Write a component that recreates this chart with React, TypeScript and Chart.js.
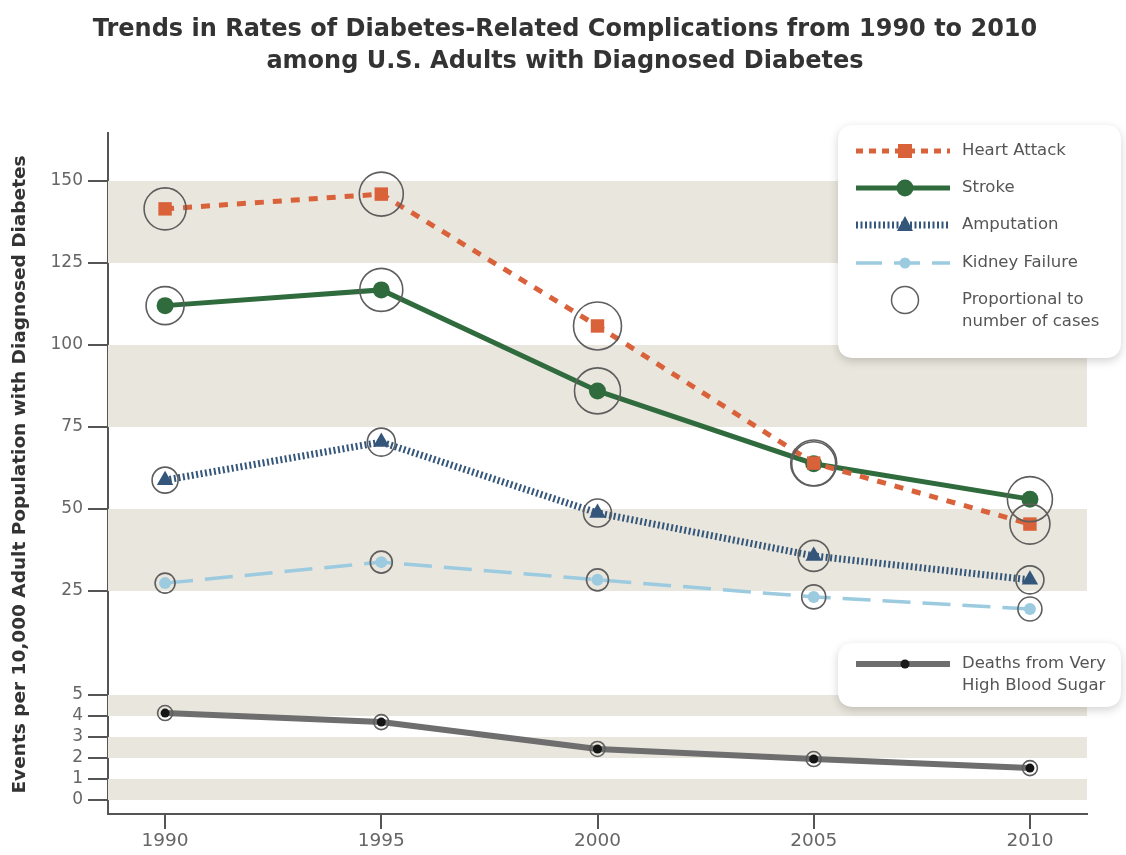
import React, { useEffect, useRef } from "react";
import { Chart, registerables } from "chart.js";

Chart.register(...registerables);

// ---- data ----
const years = [1990, 1995, 2000, 2005, 2010];
const heartAttack = [141.5, 146, 105.8, 64, 45.4];
const stroke = [112, 116.8, 86, 63.8, 53];
const amputation = [58.8, 70.4, 48.8, 35.7, 28.4];
const kidneyFailure = [27.4, 33.8, 28.4, 23.2, 19.5];
const deathsHighBloodSugar = [4.14, 3.71, 2.43, 1.95, 1.52];
const upperTicks = [25, 50, 75, 100, 125, 150];
const lowerTicks = [0, 1, 2, 3, 4, 5];
// relative number of cases (drawn as circle size)
const heartAttackCases = [21, 22, 24, 23, 20];
const strokeCases = [19, 21.5, 23, 22, 22.5];
const amputationCases = [13, 14, 14, 15.5, 14];
const kidneyCases = [10, 11, 11, 12, 12];
const deathsCases = [7.5, 7.5, 7.5, 7.5, 7.5];
const titleLines = [
  "Trends in Rates of Diabetes-Related Complications from 1990 to 2010",
  "among U.S. Adults with Diagnosed Diabetes",
];
const yTitle = "Events per 10,000 Adult Population with Diagnosed Diabetes";

const FONT = "'DejaVu Sans', 'Open Sans', sans-serif";
const C_HEART = "#d9623b";
const C_STROKE = "#2f6b3d";
const C_AMP = "#34567a";
const C_KID = "#9ccbe0";
const C_DEATH = "#6e6e6e";
const C_BAND = "#e9e6dd";
const C_AXIS = "#555555";
const C_CIRCLE = "#5e5e5e";

const pts = (vals: number[]) => vals.map((v, i) => ({ x: years[i], y: v }));

const bandsPlugin = {
  id: "bands",
  beforeDatasetsDraw(chart: any) {
    const { ctx, chartArea } = chart;
    const hi = chart.scales.yHigh;
    const lo = chart.scales.yLow;
    ctx.save();
    ctx.fillStyle = C_BAND;
    const draw = (s: any, a: number, b: number) => {
      const y1 = s.getPixelForValue(b);
      const y2 = s.getPixelForValue(a);
      ctx.fillRect(chartArea.left, y1, chartArea.right - chartArea.left, y2 - y1);
    };
    draw(hi, 125, 150);
    draw(hi, 75, 100);
    draw(hi, 25, 50);
    draw(lo, 4, 5);
    draw(lo, 2, 3);
    draw(lo, 0, 1);
    ctx.restore();
  },
};

function roundRect(ctx: any, x: number, y: number, w: number, h: number, r: number) {
  ctx.beginPath();
  ctx.moveTo(x + r, y);
  ctx.lineTo(x + w - r, y);
  ctx.quadraticCurveTo(x + w, y, x + w, y + r);
  ctx.lineTo(x + w, y + h - r);
  ctx.quadraticCurveTo(x + w, y + h, x + w - r, y + h);
  ctx.lineTo(x + r, y + h);
  ctx.quadraticCurveTo(x, y + h, x, y + h - r);
  ctx.lineTo(x, y + r);
  ctx.quadraticCurveTo(x, y, x + r, y);
  ctx.closePath();
}

const decorPlugin = {
  id: "decor",
  afterDraw(chart: any) {
    const { ctx, chartArea } = chart;
    ctx.save();
    // title
    ctx.fillStyle = "#333333";
    ctx.textAlign = "center";
    ctx.textBaseline = "middle";
    ctx.font = `bold 24px ${FONT}`;
    ctx.fillText(titleLines[0], 565, 30);
    ctx.fillText(titleLines[1], 565, 62);
    // y title
    ctx.save();
    ctx.translate(20, (chartArea.top + chartArea.bottom) / 2 + 1);
    ctx.rotate(-Math.PI / 2);
    ctx.font = `bold 18.5px ${FONT}`;
    ctx.fillStyle = "#333333";
    ctx.fillText(yTitle, 0, 0);
    ctx.restore();

    // legend boxes
    const box = (x: number, y: number, w: number, h: number) => {
      ctx.save();
      ctx.shadowColor = "rgba(0,0,0,0.18)";
      ctx.shadowBlur = 10;
      ctx.shadowOffsetX = 0;
      ctx.shadowOffsetY = 3;
      ctx.fillStyle = "#ffffff";
      roundRect(ctx, x, y, w, h, 16);
      ctx.fill();
      ctx.restore();
    };
    box(838, 125, 283, 233);
    box(838, 643, 283, 64);

    const line = (y: number, color: string, width: number, dash: number[]) => {
      ctx.save();
      ctx.strokeStyle = color;
      ctx.lineWidth = width;
      ctx.setLineDash(dash);
      ctx.beginPath();
      ctx.moveTo(856, y);
      ctx.lineTo(950, y);
      ctx.stroke();
      ctx.restore();
    };
    const mx = 905;
    // heart attack
    line(151, C_HEART, 5, [7, 6]);
    ctx.fillStyle = C_HEART;
    ctx.fillRect(mx - 7, 151 - 7, 14, 14);
    // stroke
    line(188, C_STROKE, 5, []);
    ctx.fillStyle = C_STROKE;
    ctx.beginPath();
    ctx.arc(mx, 188, 8.5, 0, Math.PI * 2);
    ctx.fill();
    // amputation
    line(225, C_AMP, 7, [2, 2.5]);
    ctx.fillStyle = C_AMP;
    ctx.beginPath();
    ctx.moveTo(mx, 225 - 9);
    ctx.lineTo(mx + 8, 225 + 6);
    ctx.lineTo(mx - 8, 225 + 6);
    ctx.closePath();
    ctx.fill();
    // kidney
    line(263, C_KID, 3.5, [26, 12]);
    ctx.fillStyle = C_KID;
    ctx.beginPath();
    ctx.arc(mx, 263, 5.5, 0, Math.PI * 2);
    ctx.fill();
    // proportional circle
    ctx.strokeStyle = C_CIRCLE;
    ctx.lineWidth = 1.5;
    ctx.beginPath();
    ctx.arc(mx, 300, 13.5, 0, Math.PI * 2);
    ctx.stroke();
    // deaths
    line(664, C_DEATH, 6, []);
    ctx.fillStyle = "#1a1a1a";
    ctx.beginPath();
    ctx.arc(mx, 664, 4.5, 0, Math.PI * 2);
    ctx.fill();

    ctx.fillStyle = "#555555";
    ctx.textAlign = "left";
    ctx.font = `16.5px ${FONT}`;
    ctx.fillText("Heart Attack", 962, 151);
    ctx.fillText("Stroke", 962, 188);
    ctx.fillText("Amputation", 962, 225);
    ctx.fillText("Kidney Failure", 962, 263);
    ctx.fillText("Proportional to", 962, 300);
    ctx.fillText("number of cases", 962, 322);
    ctx.fillText("Deaths from Very", 962, 664);
    ctx.fillText("High Blood Sugar", 962, 686);
    ctx.restore();
  },
};

export default function App() {
  const ref = useRef<HTMLCanvasElement | null>(null);
  useEffect(() => {
    document.body.style.margin = "0";
    const canvas = ref.current;
    if (!canvas) return;
    const circleDs = (vals: number[], radii: number[], axis: string) => ({
      type: "line" as const,
      data: pts(vals),
      yAxisID: axis,
      showLine: false,
      pointRadius: radii,
      pointHoverRadius: radii,
      pointBackgroundColor: "rgba(0,0,0,0)",
      pointBorderColor: C_CIRCLE,
      pointBorderWidth: 1.6,
      order: 0,
    });
    const yTicks = {
      padding: 5,
      autoSkip: false,
      color: "#666666",
      font: { family: FONT, size: 17 },
      callback: (v: any) => String(v),
    };
    const yGrid = {
      drawOnChartArea: false,
      drawTicks: true,
      tickLength: 20,
      color: C_AXIS,
      lineWidth: 2,
    };
    const chart = new Chart(canvas, {
      type: "line",
      data: {
        datasets: [
          circleDs(heartAttack, heartAttackCases, "yHigh"),
          circleDs(stroke, strokeCases, "yHigh"),
          circleDs(amputation, amputationCases, "yHigh"),
          circleDs(kidneyFailure, kidneyCases, "yHigh"),
          circleDs(deathsHighBloodSugar, deathsCases, "yLow"),
          {
            label: "Heart Attack",
            data: pts(heartAttack),
            yAxisID: "yHigh",
            borderColor: C_HEART,
            borderWidth: 5,
            borderDash: [9, 9],
            pointStyle: "rect",
            pointRadius: 9.5,
            pointBackgroundColor: C_HEART,
            pointBorderWidth: 0,
            order: 1,
          },
          {
            label: "Stroke",
            data: pts(stroke),
            yAxisID: "yHigh",
            borderColor: C_STROKE,
            borderWidth: 5,
            pointStyle: "circle",
            pointRadius: 8.5,
            pointBackgroundColor: C_STROKE,
            pointBorderWidth: 0,
            order: 2,
          },
          {
            label: "Amputation",
            data: pts(amputation),
            yAxisID: "yHigh",
            borderColor: C_AMP,
            borderWidth: 7,
            borderDash: [2, 2.5],
            pointStyle: "triangle",
            pointRadius: 9.5,
            pointBackgroundColor: C_AMP,
            pointBorderWidth: 0,
            order: 3,
          },
          {
            label: "Kidney Failure",
            data: pts(kidneyFailure),
            yAxisID: "yHigh",
            borderColor: C_KID,
            borderWidth: 3.5,
            borderDash: [28, 12],
            pointStyle: "circle",
            pointRadius: 6,
            pointBackgroundColor: C_KID,
            pointBorderWidth: 0,
            order: 4,
          },
          {
            label: "Deaths from Very High Blood Sugar",
            data: pts(deathsHighBloodSugar),
            yAxisID: "yLow",
            borderColor: C_DEATH,
            borderWidth: 6,
            pointStyle: "circle",
            pointRadius: 4.5,
            pointBackgroundColor: "#151515",
            pointBorderWidth: 0,
            order: 5,
          },
        ] as any,
      },
      options: {
        responsive: false,
        animation: false,
        devicePixelRatio: 1,
        layout: { padding: { top: 133, right: 39, left: 0, bottom: 0 } },
        plugins: {
          legend: { display: false },
          title: { display: false },
          tooltip: { enabled: false },
        },
        elements: { line: { tension: 0 } },
        scales: {
          x: {
            type: "linear",
            min: 1988.68,
            max: 2011.32,
            afterBuildTicks: (s: any) => {
              s.ticks = years.map((v) => ({ value: v }));
            },
            afterFit: (s: any) => {
              s.height = 41;
            },
            grid: {
              drawOnChartArea: false,
              drawTicks: true,
              tickLength: 15,
              color: C_AXIS,
              lineWidth: 2,
            },
            border: { display: true, color: C_AXIS, width: 2 },
            ticks: {
              padding: 1,
              autoSkip: false,
              maxRotation: 0,
              color: "#666666",
              font: { family: FONT, size: 18.5 },
              callback: (v: any) => String(v),
            },
          },
          yLow: {
            type: "linear",
            position: "left",
            stack: "y",
            stackWeight: 164,
            min: -0.667,
            max: 7.143,
            afterBuildTicks: (s: any) => {
              s.ticks = lowerTicks.map((v) => ({ value: v }));
            },
            afterFit: (s: any) => {
              s.width = 108;
            },
            grid: yGrid,
            border: { display: true, color: C_AXIS, width: 2 },
            ticks: yTicks,
          },
          yHigh: {
            type: "linear",
            position: "left",
            stack: "y",
            stackWeight: 517,
            min: 7.01,
            max: 164.63,
            afterBuildTicks: (s: any) => {
              s.ticks = upperTicks.map((v) => ({ value: v }));
            },
            afterFit: (s: any) => {
              s.width = 108;
            },
            grid: yGrid,
            border: { display: true, color: C_AXIS, width: 2 },
            ticks: yTicks,
          },
        } as any,
      },
      plugins: [bandsPlugin, decorPlugin],
    });
    return () => chart.destroy();
  }, []);
  return (
    <div style={{ width: 1126, height: 855, background: "#ffffff" }}>
      <canvas ref={ref} width={1126} height={855} style={{ display: "block" }} />
    </div>
  );
}
